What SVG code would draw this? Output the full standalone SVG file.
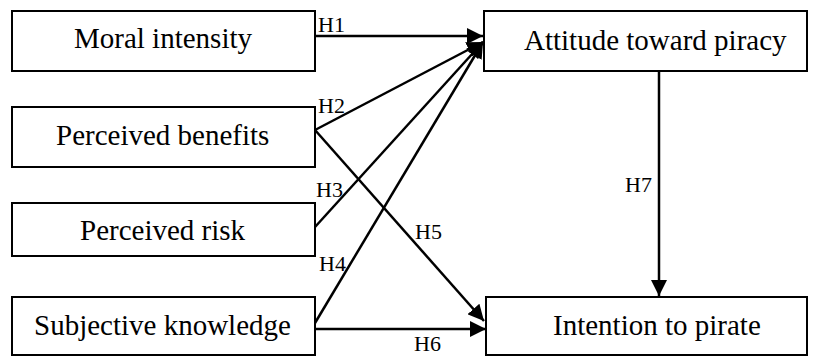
<svg xmlns="http://www.w3.org/2000/svg" width="820" height="357" viewBox="0 0 820 357">
<style>
  .box { fill: #fff; stroke: #000; stroke-width: 2; }
  .t { font-size: 29px; fill: #000; }
  .h { font-size: 22px; fill: #000; }
  .c { fill: none; stroke: #000; stroke-width: 2.5; marker-end: url(#arr); }
</style>
<defs>
  <marker id="arr" markerUnits="userSpaceOnUse" markerWidth="16" markerHeight="16" refX="16" refY="8" orient="auto" viewBox="0 0 16 16">
    <path d="M0,0 L16,8 L0,16 z" fill="#000"/>
  </marker>
</defs>
<rect width="820" height="357" fill="#fff"/>
<g id="connectors" font-family="'Liberation Serif', 'DejaVu Serif', serif">
  <line class="c" x1="315" y1="36" x2="483" y2="36"/>
  <line class="c" x1="315" y1="130" x2="483" y2="42"/>
  <line class="c" x1="315" y1="227" x2="483" y2="42"/>
  <line class="c" x1="315" y1="323" x2="483" y2="42"/>
  <line class="c" x1="315" y1="130" x2="484" y2="321"/>
  <line class="c" x1="315" y1="329" x2="486" y2="329"/>
  <line class="c" x1="659" y1="71" x2="659" y2="296"/>
  <text class="h" x="318" y="32">H1</text>
  <text class="h" x="318" y="113">H2</text>
  <text class="h" x="316" y="197">H3</text>
  <text class="h" x="319" y="271">H4</text>
  <text class="h" x="415" y="239">H5</text>
  <text class="h" x="414" y="351">H6</text>
  <text class="h" x="625" y="192">H7</text>
</g>
<g font-family="'Liberation Serif', 'DejaVu Serif', serif">
<g id="moral">
  <rect class="box" x="12" y="11" width="303" height="60"/>
  <text class="t" x="74" y="48">Moral intensity</text>
</g>
<g id="benefits">
  <rect class="box" x="12" y="107" width="303" height="60"/>
  <text class="t" x="56" y="145">Perceived benefits</text>
</g>
<g id="risk">
  <rect class="box" x="12" y="203" width="303" height="53"/>
  <text class="t" x="80" y="240">Perceived risk</text>
</g>
<g id="knowledge">
  <rect class="box" x="12" y="297" width="303" height="58"/>
  <text class="t" x="34" y="335">Subjective knowledge</text>
</g>
<g id="attitude">
  <rect class="box" x="484" y="11" width="323" height="60"/>
  <text class="t" x="524" y="50">Attitude toward piracy</text>
</g>
<g id="intention">
  <rect class="box" x="486" y="297" width="321" height="58"/>
  <text class="t" x="553" y="335">Intention to pirate</text>
</g>
</g>
</svg>
